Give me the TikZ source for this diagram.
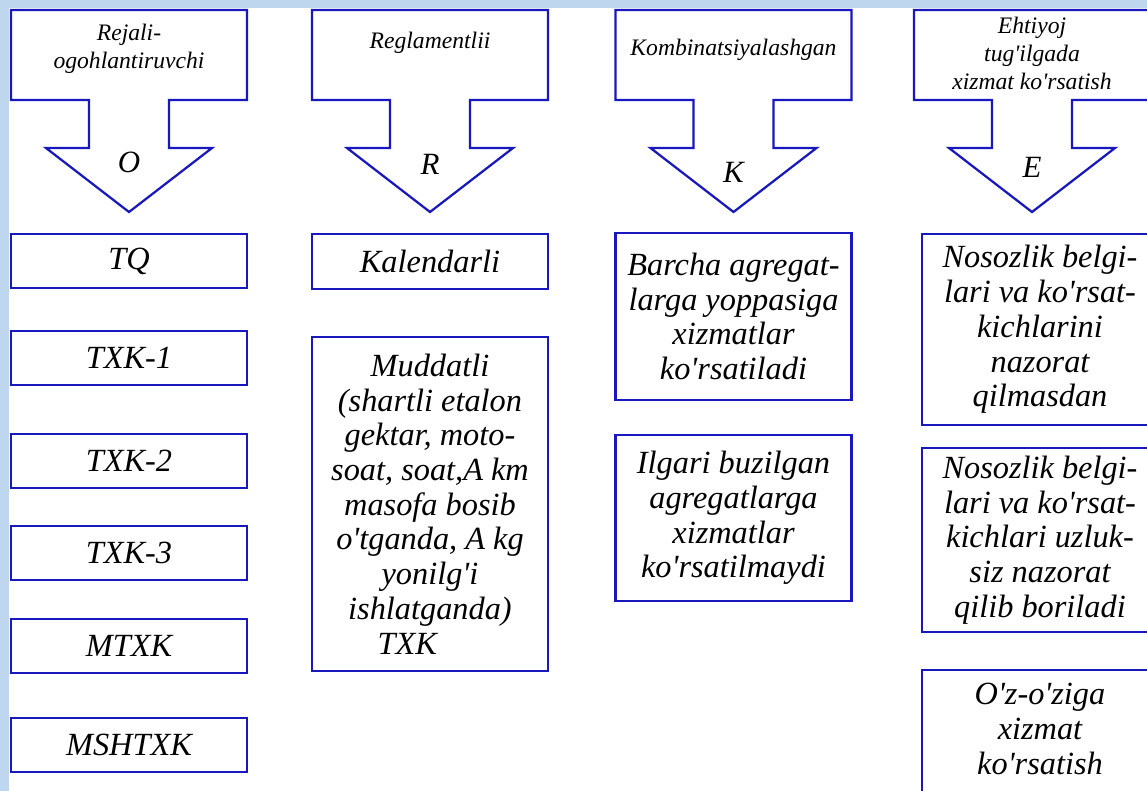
\documentclass[tikz,border=0pt]{standalone}
\usepackage{fontspec}
\newfontfamily\uzserif{Liberation Serif}

\definecolor{frameblue}{RGB}{24,24,190}
\definecolor{skyband}{RGB}{190,214,238}

\newcommand\bodyfont{\uzserif\itshape\fontsize{23}{24.7}\selectfont}
\newcommand\headfont{\uzserif\itshape\fontsize{16.8}{19.9}\selectfont}
\newcommand\letterfont{\uzserif\itshape\fontsize{22}{22}\selectfont}

\begin{document}
\begin{tikzpicture}[
  x=0.025cm, y=-0.025cm,   % one unit = one pixel of the 1147x791 sheet
  bluepen/.style  = {draw=frameblue, line width=1.6pt},
  kindhead/.style = {font=\headfont, align=center, inner sep=0pt},
  kindname/.style = {font=\letterfont, inner sep=0pt},
  box/.style      = {bluepen, fill=white, font=\bodyfont, align=center,
                     minimum width=5.9cm, inner sep=2pt},
  boxtext/.style  = {font=\bodyfont, align=center, inner sep=0pt},
]

  \useasboundingbox (0,0) rectangle (1147,791);
  \fill[skyband] (0,0) rectangle (1147,791);
  \fill[white] (9,8) rectangle (1147,791);
  \clip (0,0) rectangle (1147,791);

  % the four block arrows
  \foreach \cx/\ly/\name in {129/162/O, 430/164/R, 733.5/172/K, 1032/167/E} {
    \draw[bluepen, line join=miter]
      ({\cx-118},10) -- ({\cx+118},10) -- ({\cx+118},100) -- ({\cx+40},100)
      -- ({\cx+40},148) -- ({\cx+83},148) -- (\cx,212) -- ({\cx-83},148)
      -- ({\cx-40},148) -- ({\cx-40},100) -- ({\cx-118},100) -- cycle;
    \node[kindname] (kind-\name) at (\cx,\ly) {\name};
  }

  \node[kindhead] (head-O) at (129,49) {Rejali-\\ogohlantiruvchi};
  \node[kindhead] (head-R) at (430,43) {Reglamentlii};
  \node[kindhead] (head-K) at (733.5,50) {Kombinatsiyalashgan};
  \node[kindhead] (head-E) at (1032,53) {Ehtiyoj\\tug'ilgada\\xizmat ko'rsatish};

  \foreach \y/\txt [count=\i] in {261/TQ, 358/TXK-1, 461/TXK-2, 553/TXK-3,
                                  646/MTXK, 745/MSHTXK}
    \node[box, minimum height=1.35cm] (plan-\i) at (129,\y) {\txt};

  \node[box, minimum height=1.375cm] (reg-1) at (430,261.5) {Kalendarli};
  \node[box, minimum height=8.35cm] (reg-2) at (430,504)
    {Muddatli\\(shartli etalon\\gektar, moto-\\soat, soat,A km\\masofa bosib\\
     o'tganda, A kg\\yonilg'i\\ishlatganda)\\TXK\hspace*{1.4em}};

  \node[box, minimum height=4.175cm] (comb-1) at (733.5,316.5)
    {Barcha agregat-\\larga yoppasiga\\xizmatlar\\ko'rsatiladi};
  \node[box, minimum height=4.15cm] (comb-2) at (733.5,518)
    {Ilgari buzilgan\\agregatlarga\\xizmatlar\\ko'rsatilmaydi};

  \node[box, minimum height=4.775cm] (need-1) at (1040,329.5)
    {Nosozlik belgi-\\lari va ko'rsat-\\kichlarini\\nazorat\\qilmasdan};
  \node[box, minimum height=4.6cm] (need-2) at (1040,540)
    {Nosozlik belgi-\\lari va ko'rsat-\\kichlari uzluk-\\siz nazorat\\qilib boriladi};
  \node[box, minimum height=3.75cm] (need-3) at (1040,745) {};
  \node[boxtext] (need-3-text) at (1040,729) {O'z-o'ziga\\xizmat\\ko'rsatish};

\end{tikzpicture}
\end{document}
